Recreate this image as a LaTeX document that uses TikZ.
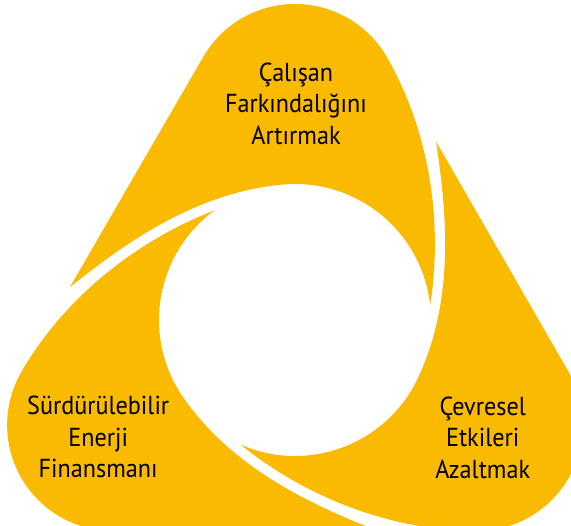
\documentclass[tikz,border=0pt]{standalone}
\usepackage{fontspec}
\setmainfont{PT Sans}[FakeStretch=0.93]
\definecolor{segyellow}{RGB}{250,186,0}
\begin{document}
\begin{tikzpicture}[x=1pt,y=1pt,
  seg/.style={fill=segyellow},
  lbl/.style={font=\fontsize{26}{31.7}\selectfont, anchor=base, inner sep=0pt, text=black}]
\useasboundingbox (-295,-206) rectangle (276,320);
\fill[white] (-295,-206) rectangle (276,320);
\clip (-295,-206) rectangle (276,320);
\foreach \a in {0,-120,-240}{
  \fill[seg, rotate=\a] (135.18,14.92) arc[start angle=6.3, end angle=95, radius=136]
     .. controls (-101.5,127.7) and (-174.3,73.3) .. (-225,33)
     -- (-91.8,263) arc[start angle=150, end angle=30, radius=106]
     .. controls (131.8,193.7) and (149,104) .. (135.18,14.92) -- cycle;
}
\node[lbl] (t1) at (1,238.5) {Çalışan};
\node[lbl] (t2) at (1,207.2) {Farkındalığını};
\node[lbl] (t3) at (1,175.5) {Artırmak};
\node[lbl] (r1) at (187.7,-95.2) {Çevresel};
\node[lbl] (r2) at (187.7,-126.8) {Etkileri};
\node[lbl] (r3) at (187.7,-158.2) {Azaltmak};
\node[lbl] (l1) at (-196.8,-94.8) {Sürdürülebilir};
\node[lbl] (l2) at (-196.8,-126.5) {Enerji};
\node[lbl] (l3) at (-196.8,-157.8) {Finansmanı};
\end{tikzpicture}
\end{document}
